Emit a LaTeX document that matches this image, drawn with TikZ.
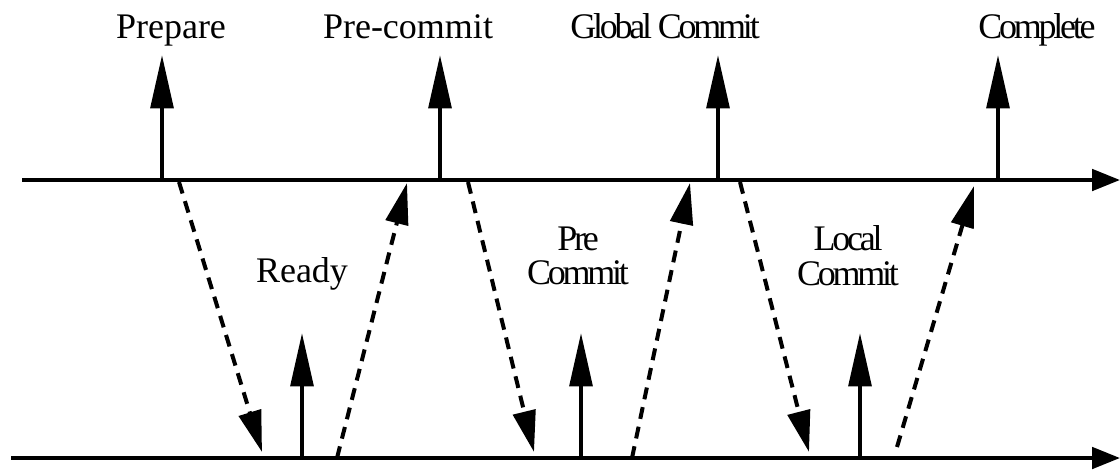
\documentclass[tikz,border=0pt]{standalone}
\usepackage{fontspec}
\setmainfont{Liberation Serif}
\usetikzlibrary{arrows.meta}

\begin{document}
\begin{tikzpicture}[x=0.75pt, y=-0.75pt,
        axis/.style={line width=3pt, -{Triangle[length=21pt, width=16pt]}},
        event/.style={line width=3pt, -{Triangle[length=40pt, width=17pt]}},
        msg/.style={line width=3pt, dash pattern=on 9pt off 6pt, -{Triangle[length=31pt, width=17pt]}},
        lbl/.style={font=\fontsize{27}{26}\selectfont, inner sep=0pt, align=center},
        tight/.style={font=\fontsize{27}{26}\selectfont\addfontfeature{LetterSpace=-9}}]
            \useasboundingbox (0,0) rectangle (1120,469);

            % Time lines
            \coordinate (coordL) at (22,180);
            \coordinate (coordR) at (1120,180);
            \coordinate (partL) at (11,458);
            \coordinate (partR) at (1120,458);

            % Events on the coordinator line
            \coordinate (prep) at (162,180);
            \coordinate (prep top) at (162,55);
            \coordinate (precom) at (440,180);
            \coordinate (precom top) at (440,55);
            \coordinate (glob) at (718,180);
            \coordinate (glob top) at (718,55);
            \coordinate (compl) at (998,180);
            \coordinate (compl top) at (998,55);

            % Events on the participant line
            \coordinate (ready) at (302,458);
            \coordinate (ready top) at (302,333);
            \coordinate (pcom) at (581,458);
            \coordinate (pcom top) at (581,333);
            \coordinate (lcom) at (860,458);
            \coordinate (lcom top) at (860,333);

            % Message ends
            \coordinate (m1a) at (179,182);
            \coordinate (m1b) at (262,452);
            \coordinate (m2a) at (337,458);
            \coordinate (m2b) at (407,183);
            \coordinate (m3a) at (468,182);
            \coordinate (m3b) at (534,452);
            \coordinate (m4a) at (632,458);
            \coordinate (m4b) at (690,183);
            \coordinate (m5a) at (740,182);
            \coordinate (m5b) at (809,452);
            \coordinate (m6a) at (897,447);
            \coordinate (m6b) at (974,186);

            % Labels
            \node[lbl, anchor=base] (prepL) at (171,38) {Prepare};
            \node[lbl, anchor=base] (precomL) at (408,38) {Pre-commit};
            \node[lbl, tight, anchor=base] (globL) at (665,38) {Global Commit};
            \node[lbl, tight, anchor=base] (complL) at (1037,38) {Complete};
            \node[lbl, anchor=base] (readyL) at (302,282) {Ready};
            \node[lbl, tight] (pcomL) at (578,256) {Pre\\Commit};
            \node[lbl, tight] (lcomL) at (848,256) {Local\\Commit};

            % Edges
            \draw[axis] (coordL) -- (coordR);
            \draw[axis] (partL) -- (partR);
            \draw[event] (prep) -- (prep top);
            \draw[event] (precom) -- (precom top);
            \draw[event] (glob) -- (glob top);
            \draw[event] (compl) -- (compl top);
            \draw[event] (ready) -- (ready top);
            \draw[event] (pcom) -- (pcom top);
            \draw[event] (lcom) -- (lcom top);
            \draw[msg] (m1a) -- (m1b);
            \draw[msg] (m2a) -- (m2b);
            \draw[msg] (m3a) -- (m3b);
            \draw[msg] (m4a) -- (m4b);
            \draw[msg] (m5a) -- (m5b);
            \draw[msg] (m6a) -- (m6b);
        \end{tikzpicture}
\end{document}
